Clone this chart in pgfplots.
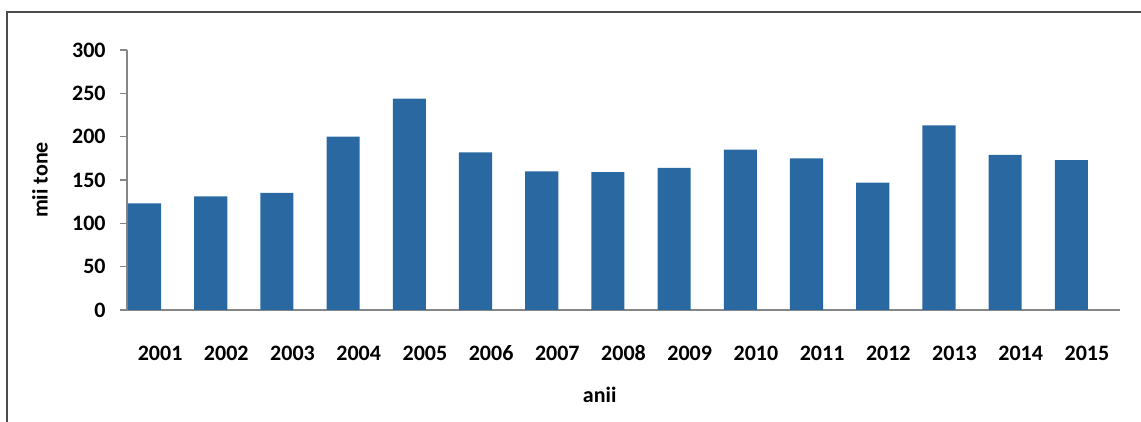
\documentclass[border=0pt]{standalone}
\usepackage{fontspec}
\setmainfont{Carlito}
\usepackage{pgfplots}
\pgfplotsset{compat=1.18}
\definecolor{barblue}{RGB}{42,104,161}
\definecolor{axgrey}{RGB}{134,134,134}
\begin{document}
\begin{tikzpicture}[x=1pt,y=1pt]
\useasboundingbox (0,0) rectangle (570.5,211);
\draw[line width=0.9pt, color=black!70] (3.5,-10) -- (3.5,205) -- (590,205);
\begin{axis}[
  at={(63.5pt,56pt)}, anchor=south west,
  scale only axis, width=496.5pt, height=130pt,
  xmin=-0.5, xmax=14.5, ymin=0, ymax=300,
  ytick={0,50,...,300},
  xtick={0,...,14},
  xticklabels={2001,2002,2003,2004,2005,2006,2007,2008,2009,2010,2011,2012,2013,2014,2015},
  /pgf/number format/assume math mode=true,
  axis lines*=left,
  axis line style={axgrey, line width=0.6pt},
  x tick style={draw=none},
  y tick style={axgrey, line width=0.6pt},
  tick align=outside,
  major tick length=3.5pt,
  tick label style={font=\fontsize{11}{13}\selectfont\bfseries},
  xticklabel style={anchor=base, inner sep=0pt, yshift=-22pt},
  yticklabel style={anchor=east, inner sep=0pt, xshift=-7pt},
  label style={font=\fontsize{11}{13}\selectfont\bfseries},
  ylabel={mii tone},
  ylabel style={at={(axis description cs:-0.0876,0.5)}, anchor=center},
  xlabel={anii},
  xlabel style={at={(axis description cs:0.476,-0.327)}, anchor=center},
  clip=false,
]
\addplot[ybar, bar width=0.5, bar shift=-0.235, fill=barblue, draw=none] coordinates {
(0,123) (1,131) (2,135) (3,200) (4,244) (5,182) (6,160) (7,159) (8,164) (9,185) (10,175) (11,147) (12,213) (13,179) (14,173)
};
\end{axis}
\end{tikzpicture}
\end{document}
